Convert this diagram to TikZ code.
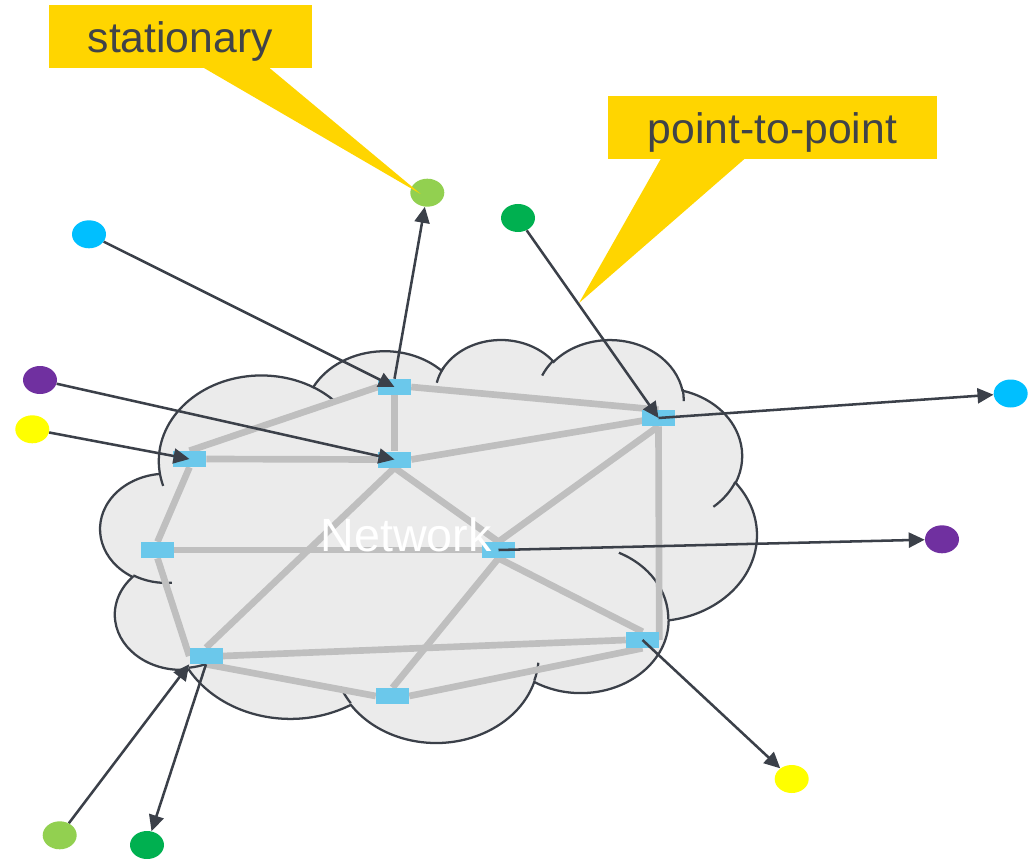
\documentclass[tikz,border=0pt]{standalone}
\usepackage{fontspec}
\setmainfont{Liberation Sans}
\usetikzlibrary{arrows.meta,shapes.geometric,backgrounds}
\definecolor{calloutyellow}{HTML}{FFD500}
\definecolor{inkgray}{HTML}{3B4049}
\definecolor{textgray}{HTML}{404348}
\definecolor{linkgray}{HTML}{BFBFBF}
\definecolor{cloudfill}{HTML}{EBEBEB}
\definecolor{switchblue}{HTML}{6BC8EB}
\definecolor{hostcyan}{HTML}{00BFFF}
\definecolor{hostlime}{HTML}{92D050}
\definecolor{hostgreen}{HTML}{00B050}
\definecolor{hostpurple}{HTML}{7030A0}
\definecolor{hostyellow}{HTML}{FFFF00}
\tikzset{
  switchbox/.style={fill=switchblue, minimum width=24.75pt, minimum height=12pt, inner sep=0pt},
  host/.style={ellipse, fill=#1, minimum width=25.5pt, minimum height=21pt, inner sep=0pt},
  link/.style={linkgray, line width=5pt},
  flow/.style={inkgray, line width=1.9pt, -{Triangle[length=12pt,width=11.25pt]}},
  cloudline/.style={inkgray, line width=1.7pt},
  calloutbox/.style={fill=calloutyellow, inner sep=0pt},
  callouttext/.style={text=textgray, font=\fontsize{32}{38}\selectfont, inner sep=0pt, anchor=base}
}

\begin{document}
\begin{tikzpicture}[x=0.75pt,y=-0.75pt]
\useasboundingbox (0,0) rectangle (1028,859);
\begin{scope}[on background layer,shift={(100.5,338.7)},xscale=1.5189,yscale=0.9325]
\draw[cloudline, fill=cloudfill] (39,143.7)
  arc[start angle=-187.75, end angle=-59.64, x radius=67.53, y radius=91.9]
  arc[start angle=-152.04, end angle=-45.43, x radius=53.33, y radius=72.67]
  arc[start angle=-153.49, end angle=-37.35, x radius=43.65, y radius=59.45]
  arc[start angle=-139.71, end angle=-10.21, x radius=48.57, y radius=65.95]
  arc[start angle=-74.77, end angle=23.21, x radius=53.33, y radius=72.73]
  arc[start angle=-37.55, end angle=81.86, x radius=67.75, y radius=92.2]
  arc[start angle=0.46, end angle=121.98, x radius=57.85, y radius=78.67]
  arc[start angle=16.84, end angle=146.22, x radius=67.52, y radius=92.15]
  arc[start angle=58.99, end angle=150.19, x radius=77.2, y radius=105.43]
  arc[start angle=83.31, end angle=223.12, x radius=43.6, y radius=59.18]
  arc[start angle=120.36, end angle=264.11, x radius=43.45, y radius=59.45]
  -- cycle;
\draw[cloudline] (46.93,261.77) arc[start angle=85.55, end angle=120.36, x radius=43.45, y radius=59.45];
\draw[cloudline] (69.28,348.99) arc[start angle=68.24, end angle=83.31, x radius=43.6, y radius=59.18];
\draw[cloudline] (164.78,390.9) arc[start angle=146.22, end angle=158.47, x radius=67.52, y radius=92.15];
\draw[cloudline] (288.27,347.51) arc[start angle=4.74, end angle=16.84, x radius=67.52, y radius=92.15];
\draw[cloudline] (341.29,229.54) arc[start angle=-64.03, end angle=0.46, x radius=57.85, y radius=78.67];
\draw[cloudline] (417.98,153.54) arc[start angle=23.21, end angle=49.64, x radius=53.33, y radius=72.73];
\draw[cloudline] (383.24,54.26) arc[start angle=-10.21, end angle=0.82, x radius=48.57, y radius=65.95];
\draw[cloudline] (290.78,39.52) arc[start angle=-156.28, end angle=-139.71, x radius=48.57, y radius=65.95];
\draw[cloudline] (221.41,47.2) arc[start angle=-167.73, end angle=-150.94, x radius=43.65, y radius=59.45];
\draw[cloudline] (140,51.92) arc[start angle=-59.64, end angle=-45.71, x radius=67.53, y radius=91.9];
\draw[cloudline] (41.27,157.89) arc[start angle=163.2, end angle=172.25, x radius=67.53, y radius=91.9];
\end{scope}
\node[switchbox] (sA) at (394.5,387) {};
\node[switchbox] (sB) at (189.5,459) {};
\node[switchbox] (sC) at (394.5,459.5) {};
\node[switchbox] (sD) at (658.5,418) {};
\node[switchbox] (sE) at (157.5,550) {};
\node[switchbox] (sF) at (498.5,550) {};
\node[switchbox] (sG) at (206,656) {};
\node[switchbox] (sH) at (642.5,640) {};
\node[switchbox] (sI) at (392.5,696) {};
\begin{scope}[on background layer]
\draw[link] (sA.west) -- (sB.north);
\draw[link] (sA.south) -- (sC.north);
\draw[link] (sA.east) -- (sD.north);
\draw[link] (sB.east) -- (sC.west);
\draw[link] (sB.south) -- (sE.north);
\draw[link] (sC.east) -- (sD.center);
\draw[link] (sC.south) -- (sF.north);
\draw[link] (sC.south) -- (sG.north);
\draw[link] (sE.east) -- (sF.west);
\draw[link] (sE.south) -- (sG.west);
\draw[link] (sF.north) -- (sD.south);
\draw[link] (sF.south) -- (sH.north);
\draw[link] (sF.south) -- (sI.north);
\draw[link] (sD.south) -- (sH.east);
\draw[link] (sG.east) -- (sH.west);
\draw[link] (sG.south) -- (sI.west);
\draw[link] (sI.east) -- (sH.south);
\end{scope}
\node[font=\fontsize{35}{42}\selectfont, text=white, inner sep=0pt, anchor=base] (nettext) at (406,551) {Network};
\node[host=hostlime] (limeTop) at (427.3,192.7) {};
\node[host=hostcyan] (cyanTop) at (89,234.3) {};
\node[host=hostgreen] (greenTop) at (518,218) {};
\node[host=hostpurple] (purpleLeft) at (40,380) {};
\node[host=hostyellow] (yellowLeft) at (32.3,429.3) {};
\node[host=hostcyan] (cyanRight) at (1010.7,393.5) {};
\node[host=hostpurple] (purpleRight) at (942,539.3) {};
\node[host=hostyellow] (yellowBottom) at (791.7,779) {};
\node[host=hostlime] (limeBottom) at (59.7,835.3) {};
\node[host=hostgreen] (greenBottom) at (147,845) {};
\draw[flow] (cyanTop) -- (sA.center);
\draw[flow] (sA.north) -- (limeTop);
\draw[flow] (purpleLeft) -- (sC.center);
\draw[flow] (yellowLeft) -- (sB.center);
\draw[flow] (greenTop) -- (sD.center);
\draw[flow] (sD.center) -- (cyanRight);
\draw[flow] (sF.center) -- (purpleRight);
\draw[flow] (sH.center) -- (yellowBottom);
\draw[flow] (limeBottom) -- (sG.south west);
\draw[flow] (sG.south) -- (greenBottom);
\node[calloutbox, minimum width=197.25pt, minimum height=47.25pt] (stationarybox) at (180.2,36.7) {};
\coordinate (stationarytip) at (420.7,194);
\fill[calloutyellow] (202.3,67) -- (268.3,67) -- (stationarytip) -- cycle;
\node[callouttext] (stationarytext) at (180.2,52.7) {stationary};
\node[calloutbox, minimum width=246.75pt, minimum height=47.25pt] (p2pbox) at (772,128) {};
\coordinate (p2ptip) at (579,303);
\fill[calloutyellow] (661,158.5) -- (745,158.5) -- (p2ptip) -- cycle;
\node[callouttext] (p2ptext) at (772.5,143.3) {point-to-point};
\end{tikzpicture}
\end{document}
